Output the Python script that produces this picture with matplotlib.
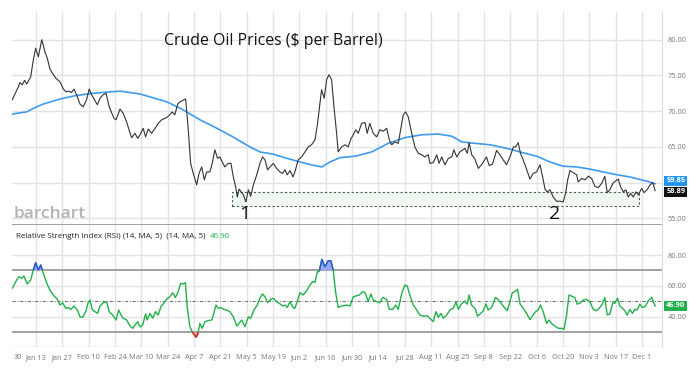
import numpy as np
import matplotlib
matplotlib.use("Agg")
import matplotlib.pyplot as plt
from matplotlib.patches import Rectangle

plt.rcParams['font.family'] = ['Open Sans', 'DejaVu Sans']

# ---------------- data (trading-day index since 2024-12-31) ----------------
start_date = '2024-12-31'

price_day = [0, 2.3, 2.9, 3.8, 4.7, 5.5, 7.0, 8.0, 8.9, 9.9, 11.2, 12.4, 13.3, 14.3, 15.6, 16.6,
             18.1, 19.4, 20.4, 21.6, 22.5, 23.4, 24.4, 25.7, 26.9, 28.2, 29.2, 30.1, 32.3, 33.3,
             34.5, 35.6, 36.8, 38.6, 39.4, 40.9, 42.1, 43.4, 44.4, 45.3, 46.6, 47.6, 48.5, 49.7,
             50.6, 51.6, 52.9, 54.2, 55.4, 56.7, 58.6, 59.8, 60.7, 61.7, 62.8, 63.6, 65.8, 66.8,
             67.7, 68.7, 70.0, 70.9, 71.9, 72.9, 73.8, 75.0, 75.9, 76.9, 77.9, 78.8, 79.7, 80.7,
             82.0, 83.0, 83.9, 84.8, 85.4, 86.1, 87.1, 87.7, 88.7, 89.6, 90.5, 91.5, 92.8, 94.0,
             95.0, 95.9, 96.9, 97.8, 99.1, 100.3, 101.6, 102.6, 103.5, 104.4, 105.4, 106.6, 107.5,
             108.5, 109.8, 111.1, 112.3, 113.6, 114.9, 115.8, 117.4, 118.4, 119.3, 120.2, 121.2,
             122.1, 123.1, 123.7, 125.0, 126.3, 127.5, 128.4, 130.4, 131.3, 132.6, 133.9, 134.7,
             135.7, 137.0, 138.3, 139.5, 140.8, 142.1, 143.1, 144.0, 145.2, 146.5, 147.4, 148.4,
             149.3, 150.3, 151.6, 152.8, 154.1, 155.4, 156.6, 157.9, 158.5, 159.8, 161.1, 162.0,
             163.0, 164.2, 165.5, 166.8, 167.6, 168.7, 169.9, 171.8, 172.7, 173.4, 174.4, 175.6,
             176.9, 178.1, 180.0, 181.0, 182.3, 183.8, 185.1, 186.3, 187.6, 188.9, 190.2, 191.0,
             192.0, 192.9, 193.9, 194.9, 196.5, 197.7, 199.0, 200.3, 201.3, 202.2, 203.0, 204.1,
             205.3, 206.6, 207.9, 209.1, 210.1, 210.8, 211.7, 212.9, 214.2, 214.8, 216.1, 217.4,
             218.6, 219.9, 221.1, 222.4, 223.7, 224.9, 225.8, 226.8, 228.1, 230.0, 230.9, 231.9,
             232.9, 233.8, 234.7, 235.7, 236.7, 237.6, 238.9, 239.8, 241.1, 242.1, 243.1, 244.0]
price = [71.6, 73.4, 74.0, 73.7, 74.3, 73.8, 74.8, 77.2, 78.8, 77.6, 80.0, 78.3, 77.4, 75.9, 75.1, 74.6,
         74.1, 73.1, 72.7, 72.8, 72.6, 73.1, 72.3, 71.0, 70.6, 71.6, 73.1, 72.3, 70.9, 71.8,
         72.3, 72.5, 70.6, 69.0, 68.8, 70.3, 69.7, 68.5, 67.3, 66.3, 66.9, 66.2, 66.7, 67.6,
         66.4, 67.5, 66.9, 67.6, 68.3, 68.8, 69.1, 69.5, 69.9, 69.5, 71.0, 71.3, 71.7, 67.4,
         62.7, 61.3, 59.7, 61.3, 62.2, 60.4, 61.5, 61.5, 62.7, 64.6, 63.4, 63.6, 62.9, 62.2,
         62.7, 62.7, 60.8, 59.4, 58.0, 59.1, 58.6, 58.3, 57.3, 59.0, 58.1, 59.7, 61.1, 62.7,
         63.6, 63.2, 61.8, 62.2, 62.7, 62.0, 61.5, 61.3, 61.8, 61.1, 61.7, 60.8, 61.8,
         63.2, 63.6, 64.3, 65.0, 65.3, 66.0, 68.1, 73.0, 71.8, 74.4, 75.1, 74.4,
         70.6, 66.9, 64.3, 65.0, 65.3, 65.0, 66.0, 67.4, 66.9, 68.3, 68.4, 66.9,
         68.3, 66.9, 66.4, 67.4, 67.2, 67.6, 66.0, 65.3, 65.7, 65.5, 67.4, 69.5,
         69.9, 69.2, 66.9, 65.0, 64.1, 63.9, 63.6, 63.9, 62.7, 62.8, 63.9, 62.7,
         63.6, 62.5, 63.4, 63.6, 64.6, 63.6, 64.3, 64.8, 64.1, 65.6, 63.9, 63.3,
         62.0, 62.5, 63.6, 62.4, 62.6, 64.5, 63.9, 63.2, 62.5, 63.6, 65.0, 65.0,
         65.6, 64.1, 63.2, 62.2, 60.5, 61.3, 61.5, 62.5, 60.8, 59.1, 58.7, 59.0,
         58.0, 57.4, 57.4, 57.3, 58.7, 60.4, 61.7, 61.4, 61.1, 60.1, 60.6, 60.4,
         60.9, 60.6, 59.5, 59.3, 59.9, 60.9, 58.6, 59.0, 60.0, 60.5, 59.4, 58.7,
         59.0, 58.0, 58.5, 58.0, 58.7, 58.3, 59.2, 58.6, 59.1, 59.7, 60.0, 58.89]

ma_day = [0, 5.5, 8.6, 11.8, 18.1, 24.4, 30.7, 37.1, 40.9, 44.7, 48.5, 52.3, 58.7, 64.8, 71.2,
          77.7, 83.8, 90.2, 94.0, 98.9, 104.3, 109.2, 113.4, 117.5, 120.6, 124.4, 130.1, 136.4,
          142.7, 149.0, 155.4, 161.7, 166.8, 170.6, 175.6, 181.3, 188.9, 192.7, 199.0, 204.1,
          209.1, 214.2, 219.2, 228.1, 234.4, 242.0, 244.0]
ma = [69.6, 69.9, 70.5, 71.0, 71.7, 72.2, 72.5, 72.7, 72.8, 72.6, 72.4, 72.0, 71.3, 70.2, 68.8,
      67.6, 66.4, 65.0, 64.3, 64.0, 63.4, 62.9, 62.5, 62.2, 62.9, 63.5, 63.7, 64.3,
      65.5, 66.3, 66.7, 66.8, 66.5, 65.7, 65.5, 65.3, 64.7, 64.3, 63.7, 62.9,
      62.3, 62.2, 61.9, 61.2, 60.8, 60.1, 59.85]

rsi_day = [0, 1.7, 2.5, 3.6, 4.4, 5.7, 7.0, 8.0, 8.9, 9.9, 10.8, 11.8, 13.1, 14.3, 15.6, 17.1,
           18.1, 19.1, 20.3, 21.3, 22.3, 23.4, 24.7, 25.7, 26.7, 27.9, 28.8, 29.5, 30.4, 32.4,
           33.3, 34.5, 35.8, 36.8, 38.1, 39.4, 40.4, 41.3, 42.1, 43.4, 44.7, 45.7, 46.6, 47.6,
           48.5, 49.5, 50.6, 51.2, 52.3, 53.3, 54.4, 55.4, 56.4, 57.6, 58.6, 59.8, 60.9, 61.9,
           63.0, 63.9, 64.9, 65.7, 66.4, 67.4, 68.5, 69.7, 70.4, 71.2, 72.1, 73.1, 74.4, 75.7,
           76.3, 77.3, 78.2, 79.1, 80.3, 81.4, 82.6, 83.9, 85.2, 86.1, 87.1, 88.3, 89.6, 90.5,
           91.7, 93.0, 94.0, 94.9, 95.9, 96.9, 98.1, 99.1, 100.3, 101.6, 102.6, 103.6, 104.4,
           105.4, 106.6, 107.3, 108.3, 109.2, 110.4, 111.7, 113.0, 114.0, 114.9, 115.8, 116.5,
           117.5, 118.7, 119.9, 120.9, 121.8, 122.7, 123.7, 125.0, 126.9, 128.2, 129.4, 131.7,
           133.0, 133.9, 135.1, 136.1, 137.0, 138.3, 139.5, 140.6, 142.1, 143.1, 144.4, 145.5,
           146.5, 147.8, 149.0, 149.9, 150.9, 152.2, 153.5, 154.7, 156.0, 157.5, 158.5, 159.8,
           160.8, 161.7, 162.7, 163.6, 164.9, 166.1, 167.4, 168.4, 169.3, 170.5, 171.8, 172.7,
           173.4, 174.3, 175.6, 176.6, 177.8, 178.8, 179.8, 180.6, 181.9, 183.4, 184.4, 185.7,
           187.0, 187.9, 188.9, 189.8, 190.8, 191.8, 192.7, 193.9, 195.2, 196.5, 197.7, 198.6,
           199.6, 200.5, 201.5, 202.8, 203.7, 204.9, 205.9, 207.2, 208.5, 209.4, 210.4, 211.3,
           212.3, 213.5, 214.4, 215.7, 216.7, 218.0, 219.2, 220.5, 221.8, 223.0, 224.0, 224.9,
           225.8, 226.8, 227.9, 228.7, 229.7, 230.6, 231.6, 232.5, 233.4, 234.4, 235.4, 236.3,
           237.2, 238.2, 239.2, 240.4, 241.4, 242.7, 244.0]
rsi = [58.4, 63.8, 65.9, 64.9, 66.4, 61.2, 63.8, 70.3, 75.0, 70.3, 73.5, 68.1, 61.6, 57.3, 54.0, 51.2,
       47.5, 49.0, 45.4, 45.9, 44.7, 46.9, 44.3, 39.9, 39.5, 43.2, 49.0, 50.8, 44.3, 42.1,
       46.9, 49.0, 49.7, 43.2, 41.0, 37.8, 44.3, 41.0, 38.9, 37.8, 33.9, 32.4, 34.5, 36.7,
       33.4, 34.5, 41.7, 37.8, 42.1, 38.9, 43.2, 41.0, 46.4, 49.0, 51.4, 52.9, 55.5, 52.4,
       56.2, 61.6, 61.2, 62.0, 46.4, 33.4, 29.6, 26.6, 28.5, 35.6, 32.4, 36.7, 37.4, 37.8,
       41.0, 47.5, 45.4, 45.9, 44.7, 44.3, 43.2, 39.9, 33.9, 35.8, 37.8, 33.4, 39.9, 38.9,
       44.3, 47.5, 51.9, 54.7, 52.9, 49.0, 51.2, 51.9, 49.7, 48.3, 46.9, 47.5, 45.9,
       49.7, 45.9, 45.4, 50.8, 55.5, 54.0, 56.8, 60.5, 62.7, 62.3, 69.2, 69.2,
       77.2, 72.4, 76.3, 76.3, 70.3, 56.2, 45.9, 46.9, 47.5, 46.9, 52.9, 54.0,
       56.2, 55.5, 49.7, 54.7, 50.8, 49.7, 49.0, 52.4, 51.2, 44.7, 44.7, 47.5,
       44.7, 55.1, 60.5, 59.9, 54.0, 47.5, 44.3, 41.0, 40.3, 40.5, 38.9, 36.7,
       43.2, 39.5, 42.1, 38.9, 41.0, 44.3, 45.4, 49.7, 44.7, 48.3, 50.1, 48.1,
       54.0, 47.5, 45.4, 40.3, 42.1, 43.8, 48.3, 44.3, 45.9, 52.4, 51.2, 48.3,
       45.4, 43.8, 49.7, 55.5, 56.2, 57.7, 48.3, 45.4, 42.1, 38.1, 41.0, 43.2,
       44.3, 47.5, 43.2, 35.6, 37.8, 35.2, 33.9, 32.4, 32.4, 31.7, 41.0, 54.0,
       53.3, 52.4, 48.1, 49.0, 50.8, 51.2, 49.7, 44.7, 43.8, 45.9, 48.3, 52.4,
       41.0, 41.7, 49.0, 48.6, 51.9, 46.9, 45.4, 43.8, 41.0, 44.7, 42.1, 44.7,
       44.3, 48.1, 45.9, 46.9, 50.3, 52.4, 46.90]

tick_dates = ['2025-01-13', '2025-01-27', '2025-02-10', '2025-02-24', '2025-03-10', '2025-03-24',
              '2025-04-07', '2025-04-21', '2025-05-05', '2025-05-19', '2025-06-02', '2025-06-16',
              '2025-06-30', '2025-07-14', '2025-07-28', '2025-08-11', '2025-08-25', '2025-09-08',
              '2025-09-22', '2025-10-06', '2025-10-20', '2025-11-03', '2025-11-17', '2025-12-01']
tick_labels = ['Jan 13', 'Jan 27', 'Feb 10', 'Feb 24', 'Mar 10', 'Mar 24', 'Apr 7', 'Apr 21',
               'May 5', 'May 19', 'Jun 2', 'Jun 16', 'Jun 30', 'Jul 14', 'Jul 28', 'Aug 11',
               'Aug 25', 'Sep 8', 'Sep 22', 'Oct 6', 'Oct 20', 'Nov 3', 'Nov 17', 'Dec 1']
first_label = '30'

price_ticks = [55, 65, 70, 75, 80]
rsi_ticks = [40, 60, 80]
last_price = 58.89
last_ma = 59.85
last_rsi = 46.90
zone_low, zone_high = 56.78, 58.74
zone_start, zone_end = 83.4, 237.8
mark1_day, mark2_day, mark_y = 88.3, 206.0, 55.6

title = 'Crude Oil Prices ($ per Barrel)'
rsi_title = 'Relative Strength Index (RSI) (14, MA, 5)  (14, MA, 5)'

# ---------------- figure ----------------
W, H = 700, 369
fig = plt.figure(figsize=(W / 100, H / 100), dpi=100)
fig.patch.set_facecolor('white')

xlim = (-0.1, 246.6)
ax1 = fig.add_axes([12 / W, (H - 224) / H, 650 / W, 212 / H])
ax2 = fig.add_axes([12 / W, (H - 347.4) / H, 650 / W, 123.2 / H])

tick_pos = np.busday_count(start_date, tick_dates)

grid_c = '#e3e3e3'
for ax in (ax1, ax2):
    ax.set_xlim(*xlim)
    ax.set_xticks(tick_pos)
    ax.grid(axis='x', color=grid_c, lw=1.0)
    for s in ('top', 'left', 'bottom'):
        ax.spines[s].set_visible(False)
    ax.spines['right'].set_color('#dddddd')
    ax.yaxis.tick_right()
    ax.tick_params(axis='both', length=0, labelsize=5.3, labelcolor='#777777', pad=4)
    ax.set_axisbelow(True)

# ---- price panel ----
ax1.set_ylim(54.22, 83.87)
ax1.set_yticks(price_ticks)
ax1.set_yticklabels([f'{v:.2f}' for v in price_ticks])
for v in [55, 60, 65, 70, 75, 80]:
    ax1.axhline(v, color=grid_c, lw=1.0, zorder=0)
ax1.set_xticklabels([])

ax1.add_patch(Rectangle((zone_start, zone_low), zone_end - zone_start, zone_high - zone_low,
                        facecolor='#eef8ee', edgecolor='#555555', lw=0.8, ls=(0, (2, 2)), zorder=1))
ax1.plot(ma_day, ma, color='#3d9bf0', lw=1.2, zorder=3, solid_joinstyle='round')
ax1.plot(price_day, price, color='#333333', lw=0.8, zorder=4)

ax1.text(mark1_day, mark_y, '1', fontsize=14, ha='center', va='center', color='#111111')
ax1.text(mark2_day, mark_y, '2', fontsize=14, ha='center', va='center', color='#111111')
fig.text(164 / W, 1 - 41 / H, title, fontsize=11.4, va='center', ha='left', color='#111111')
fig.text(14 / W, 1 - 214 / H, 'barchart', fontsize=12.5, va='center', ha='left',
         color='#b3b3b3', fontweight='semibold')

bb = dict(boxstyle='square,pad=0.25', lw=0)
ax1.annotate(f'{last_ma:.2f}', xy=(1.0, last_ma), xycoords=('axes fraction', 'data'),
             xytext=(3, 2), textcoords='offset points', fontsize=5.3, color='white',
             va='center', ha='left', fontweight='bold', bbox=dict(bb, fc='#2196f3'))
ax1.annotate(f'{last_price:.2f}', xy=(1.0, last_price), xycoords=('axes fraction', 'data'),
             xytext=(3, -1), textcoords='offset points', fontsize=5.3, color='white',
             va='center', ha='left', fontweight='bold', bbox=dict(bb, fc='#111111'))

# ---- RSI panel ----
ax2.set_ylim(20, 100)
ax2.set_yticks(rsi_ticks)
ax2.set_yticklabels([f'{v:.2f}' for v in rsi_ticks])
for v in (40, 60, 80):
    ax2.axhline(v, color=grid_c, lw=1.0, zorder=0)
for v in (30, 70, 100):
    ax2.axhline(v, color='#9a9a9a', lw=1.3, zorder=1)
ax2.axhline(20, color='#dddddd', lw=1.0, zorder=1)
ax2.axhline(50, color='#555555', lw=0.6, ls=(0, (4, 2, 1, 2)), zorder=1)
ax2.set_xticklabels(tick_labels)
ax2.tick_params(axis='x', pad=5)
ax2.text(0.003, -0.055, first_label, transform=ax2.transAxes, fontsize=5.3, color='#777777',
         ha='left', va='top')

rd = np.array(rsi_day)
rv = np.array(rsi)
ax2.fill_between(rd, rv, 70, where=rv > 70, interpolate=True, color='#9aa8f5', lw=0, zorder=2)
ax2.fill_between(rd, rv, 30, where=rv < 30, interpolate=True, color='#f5a0a0', lw=0, zorder=2)
ax2.plot(rd, rv, color='#22b04b', lw=1.0, zorder=3)
hi, = ax2.plot(rd, rv, color='#2f4fe0', lw=1.0, zorder=4)
hi.set_clip_path(Rectangle((xlim[0], 70), xlim[1] - xlim[0], 30, transform=ax2.transData))
lo, = ax2.plot(rd, rv, color='#e52222', lw=1.0, zorder=4)
lo.set_clip_path(Rectangle((xlim[0], 20), xlim[1] - xlim[0], 10, transform=ax2.transData))

ax2.annotate(f'{last_rsi:.2f}', xy=(1.0, last_rsi), xycoords=('axes fraction', 'data'),
             xytext=(3, 0), textcoords='offset points', fontsize=5.3, color='white',
             va='center', ha='left', fontweight='bold', bbox=dict(bb, fc='#22b04b'))

rsi_txt = fig.text(16 / W, 1 - 236 / H, rsi_title, fontsize=5.8, va='center', ha='left',
                   color='#222222')
fig.canvas.draw()
ann = plt.annotate(f'{last_rsi:.2f}', xy=(1.0, 0.5), xycoords=rsi_txt, xytext=(3, 0),
                   textcoords='offset points', fontsize=5.8, va='center', ha='left',
                   color='#22b04b', annotation_clip=False)

fig.savefig('out.png', dpi=100, facecolor='white')
